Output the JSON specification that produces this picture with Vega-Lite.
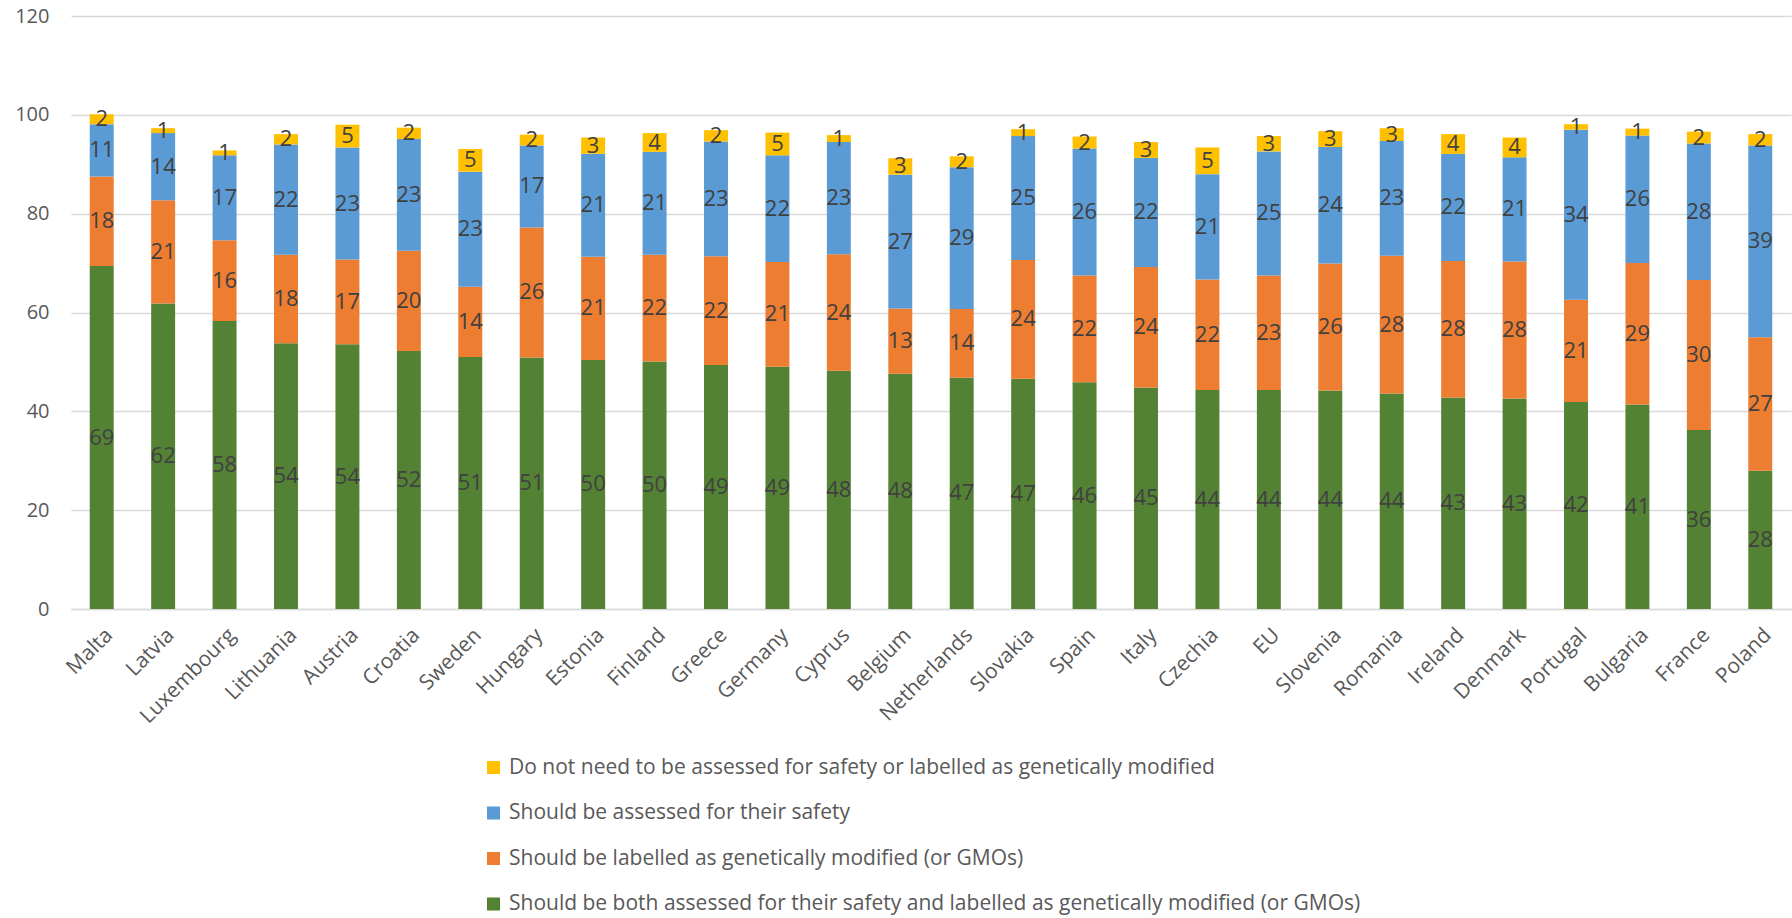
{
  "$schema": "https://vega.github.io/schema/vega-lite/v6.json",
  "width": 1720,
  "height": 593,
  "autosize": {"type": "none"},
  "padding": {"left": 71, "top": 16, "right": 1, "bottom": 309},
  "background": "white",
  "config": {"view": {"stroke": null}, "font": "Open Sans"},
  "data": {"values": [
    {"c": "Malta", "both": 69.4, "labelled": 18.1, "assessed": 10.6, "none": 2.0},
    {"c": "Latvia", "both": 61.8, "labelled": 20.9, "assessed": 13.6, "none": 1.0},
    {"c": "Luxembourg", "both": 58.3, "labelled": 16.3, "assessed": 17.2, "none": 1.0},
    {"c": "Lithuania", "both": 53.8, "labelled": 17.9, "assessed": 22.3, "none": 2.1},
    {"c": "Austria", "both": 53.6, "labelled": 17.1, "assessed": 22.7, "none": 4.6},
    {"c": "Croatia", "both": 52.2, "labelled": 20.3, "assessed": 22.6, "none": 2.3},
    {"c": "Sweden", "both": 51.0, "labelled": 14.2, "assessed": 23.3, "none": 4.6},
    {"c": "Hungary", "both": 50.9, "labelled": 26.3, "assessed": 16.6, "none": 2.2},
    {"c": "Estonia", "both": 50.4, "labelled": 20.9, "assessed": 20.8, "none": 3.3},
    {"c": "Finland", "both": 50.1, "labelled": 21.6, "assessed": 20.8, "none": 3.8},
    {"c": "Greece", "both": 49.4, "labelled": 22.0, "assessed": 23.2, "none": 2.3},
    {"c": "Germany", "both": 49.0, "labelled": 21.2, "assessed": 21.6, "none": 4.6},
    {"c": "Cyprus", "both": 48.2, "labelled": 23.6, "assessed": 22.7, "none": 1.4},
    {"c": "Belgium", "both": 47.6, "labelled": 13.2, "assessed": 27.1, "none": 3.3},
    {"c": "Netherlands", "both": 46.8, "labelled": 13.9, "assessed": 28.7, "none": 2.2},
    {"c": "Slovakia", "both": 46.6, "labelled": 24.0, "assessed": 25.1, "none": 1.4},
    {"c": "Spain", "both": 45.9, "labelled": 21.6, "assessed": 25.7, "none": 2.4},
    {"c": "Italy", "both": 44.8, "labelled": 24.4, "assessed": 22.1, "none": 3.2},
    {"c": "Czechia", "both": 44.3, "labelled": 22.4, "assessed": 21.3, "none": 5.4},
    {"c": "EU", "both": 44.3, "labelled": 23.2, "assessed": 25.1, "none": 3.1},
    {"c": "Slovenia", "both": 44.2, "labelled": 25.7, "assessed": 23.6, "none": 3.2},
    {"c": "Romania", "both": 43.6, "labelled": 27.9, "assessed": 23.2, "none": 2.6},
    {"c": "Ireland", "both": 42.8, "labelled": 27.6, "assessed": 21.7, "none": 4.0},
    {"c": "Denmark", "both": 42.6, "labelled": 27.7, "assessed": 21.1, "none": 4.0},
    {"c": "Portugal", "both": 41.9, "labelled": 20.7, "assessed": 34.4, "none": 1.1},
    {"c": "Bulgaria", "both": 41.4, "labelled": 28.6, "assessed": 25.8, "none": 1.4},
    {"c": "France", "both": 36.2, "labelled": 30.4, "assessed": 27.6, "none": 2.4},
    {"c": "Poland", "both": 28.0, "labelled": 27.0, "assessed": 38.8, "none": 2.3}
  ]},
  "transform": [
    {"fold": ["both", "labelled", "assessed", "none"], "as": ["key", "value"]},
    {"calculate": "indexof(['both','labelled','assessed','none'], datum.key)", "as": "ord"},
    {"stack": "value", "groupby": ["c"], "sort": [{"field": "ord", "order": "ascending"}], "as": ["v0", "v1"]},
    {"calculate": "(datum.v0 + datum.v1) / 2", "as": "vm"}
  ],
  "encoding": {
    "x": {
      "field": "c", "type": "nominal", "sort": null,
      "scale": {"paddingInner": 0.61, "paddingOuter": 0.305},
      "axis": {
        "title": null, "labelAngle": -45, "labelAlign": "right", "labelBaseline": "top",
        "labelFontSize": 21, "labelColor": "#595959", "labelPadding": 15,
        "ticks": false, "domainColor": "#D9D9D9", "domainWidth": 1.5, "labelFont": "Open Sans"
      }
    }
  },
  "layer": [
    {
      "mark": {"type": "bar"},
      "encoding": {
        "y": {
          "field": "v0", "type": "quantitative",
          "scale": {"domain": [0, 120], "nice": false},
          "axis": {
            "title": null, "values": [0, 20, 40, 60, 80, 100, 120],
            "domain": false, "ticks": false, "gridColor": "#D9D9D9", "gridWidth": 1.5,
            "labelFontSize": 20, "labelColor": "#595959", "labelPadding": 22
          }
        },
        "y2": {"field": "v1"},
        "color": {
          "field": "key", "type": "nominal",
          "scale": {
            "domain": ["none", "assessed", "labelled", "both"],
            "range": ["#FFC000", "#5B9BD5", "#ED7D31", "#548235"]
          },
          "legend": {
            "title": null, "orient": "none", "legendX": 412, "legendY": 741,
            "direction": "vertical", "symbolType": "square", "symbolSize": 170,
            "symbolStrokeWidth": 0, "labelFontSize": 21, "labelColor": "#595959",
            "rowPadding": 23.5, "labelLimit": 1200, "labelOffset": 5, "padding": 0,
            "labelExpr": "{'none': 'Do not need to be assessed for safety or labelled as genetically modified', 'assessed': 'Should be assessed for their safety', 'labelled': 'Should be labelled as genetically modified (or GMOs)', 'both': 'Should be both assessed for their safety and labelled as genetically modified (or GMOs)'}[datum.value]"
          }
        }
      }
    },
    {
      "mark": {"type": "text", "fontSize": 22, "color": "#404040", "baseline": "middle", "align": "center"},
      "encoding": {
        "y": {"field": "vm", "type": "quantitative"},
        "text": {"field": "value", "type": "quantitative", "format": ".0f"}
      }
    }
  ]
}
